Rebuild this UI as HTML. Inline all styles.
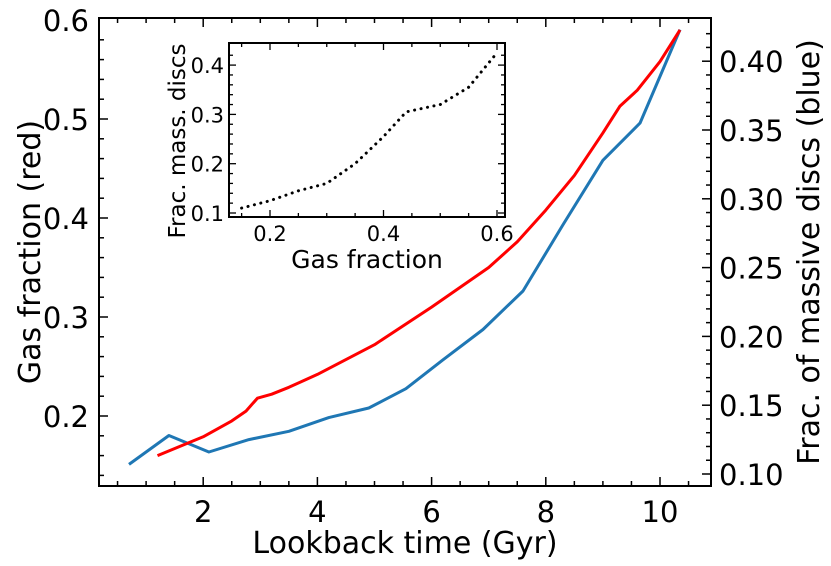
<!DOCTYPE html>
<html><head><meta charset="utf-8"><style>
html,body{margin:0;padding:0;background:#fff;}
svg{display:block;font-family:"DejaVu Sans","Liberation Sans",sans-serif;}
</style></head><body>
<svg id="chart" width="831" height="566" viewBox="0 0 831 566" xmlns="http://www.w3.org/2000/svg"></svg>
<script>
const lookbackRed = [1.2,2,2.5,2.75,2.95,3.2,3.5,4,5,6,7,7.5,8,8.5,9,9.3,9.6,10,10.35];
const gasFraction = [0.160,0.179,0.195,0.205,0.218,0.222,0.229,0.242,0.272,0.310,0.350,0.376,0.408,0.443,0.486,0.513,0.529,0.558,0.590];
const lookbackBlue = [0.7,1.4,2.1,2.8,3.5,4.2,4.9,5.55,6.2,6.9,7.6,8.3,9.0,9.65,10.35];
const fracMassive = [0.107,0.128,0.116,0.125,0.131,0.141,0.148,0.162,0.183,0.205,0.233,0.281,0.328,0.355,0.423];
const insetGas = [0.15,0.2,0.25,0.3,0.35,0.4,0.44,0.5,0.55,0.6];
const insetFrac = [0.11,0.125,0.145,0.16,0.2,0.255,0.305,0.32,0.355,0.425];
const xTicks = [2,4,6,8,10];
const yLeftTicks = [0.2,0.3,0.4,0.5,0.6];
const yRightTicks = [0.10,0.15,0.20,0.25,0.30,0.35,0.40];
const insetXTicks = [0.2,0.4,0.6];
const insetYTicks = [0.1,0.2,0.3,0.4];

const NS="http://www.w3.org/2000/svg";
const svg=document.getElementById('chart');
function mk(tag,attrs,parent){const e=document.createElementNS(NS,tag);for(const k in attrs)e.setAttribute(k,attrs[k]);(parent||svg).appendChild(e);return e;}

const L=99,R=711,T=18,B=486;
const X=v=>89+v*57.1;
const YL=v=>416-(v-0.2)*990;
const YR=v=>474-(v-0.1)*1376;

function line(xs,ys,fx,fy,color,name,dash,w){
  const p=mk('polyline',{points:xs.map((x,i)=>fx(x).toFixed(1)+','+fy(ys[i]).toFixed(1)).join(' '),fill:'none',stroke:color,'stroke-width':w||3,'stroke-linejoin':'round'});
  if(dash){p.setAttribute('stroke-dasharray',dash);p.setAttribute('stroke-linecap','round');}
  
  
}
line(lookbackBlue,fracMassive,X,YR,'#1f77b4','blue-series-massive-discs');
line(lookbackRed,gasFraction,X,YL,'#ff0000','red-series-gas-fraction');

const frame=mk('rect',{x:L,y:T,width:R-L,height:B-T,fill:'none',stroke:'#000','stroke-width':2});



const ticks=mk('g',{stroke:'#000','stroke-width':1.5});


for(let v=0.5;v<=10.8;v+=0.5){const x=X(v);const major=Math.abs(v/2-Math.round(v/2))<1e-6;const len=major?9:5;
  mk('line',{x1:x,y1:B,x2:x,y2:B-len},ticks);mk('line',{x1:x,y1:T,x2:x,y2:T+len},ticks);}
for(let v=0.14;v<=0.6;v+=0.02){const y=YL(v);const major=Math.abs(v*10-Math.round(v*10))<1e-6;mk('line',{x1:L,y1:y,x2:L+(major?9:5),y2:y},ticks);}
for(let v=0.10;v<=0.43;v+=0.01){const y=YR(v);const major=Math.abs(v*20-Math.round(v*20))<1e-6;mk('line',{x1:R,y1:y,x2:R-(major?9:5),y2:y},ticks);}

xTicks.forEach(v=>{const t=mk('text',{x:X(v),y:522,'font-size':29,'text-anchor':'middle'});t.textContent=v;
  });
yLeftTicks.forEach(v=>{const t=mk('text',{x:89,y:YL(v)+11,'font-size':29,'text-anchor':'end'});t.textContent=v.toFixed(1);
  });
yRightTicks.forEach(v=>{const t=mk('text',{x:719,y:YR(v)+11,'font-size':29,'text-anchor':'start'});t.textContent=v.toFixed(2);
  });

let t=mk('text',{x:405,y:553,'font-size':30,'text-anchor':'middle'});t.textContent='Lookback time (Gyr)';

t=mk('text',{x:0,y:0,'font-size':30,'text-anchor':'middle',transform:'translate(40,252) rotate(-90)'});t.textContent='Gas fraction (red)';

t=mk('text',{x:0,y:0,'font-size':30,'text-anchor':'middle',transform:'translate(819,252) rotate(-90)'});t.textContent='Frac. of massive discs (blue)';


// inset
const iL=229,iR=505,iT=43,iB=217;
const IX=v=>270+(v-0.2)*567.5;
const IY=v=>213-(v-0.1)*493;
const inset=mk('g',{});


mk('rect',{x:iL,y:iT,width:iR-iL,height:iB-iT,fill:'#fff',stroke:'none'},inset);
const ip=mk('polyline',{points:insetGas.map((x,i)=>IX(x).toFixed(1)+','+IY(insetFrac[i]).toFixed(1)).join(' '),fill:'none',stroke:'#000','stroke-width':3,'stroke-dasharray':'0.1 6.5','stroke-linecap':'round'},inset);


const ifr=mk('rect',{x:iL,y:iT,width:iR-iL,height:iB-iT,fill:'none',stroke:'#000','stroke-width':2},inset);


const it=mk('g',{stroke:'#000','stroke-width':1.3},inset);
for(let v=0.15;v<=0.61;v+=0.05){const x=IX(v);const major=Math.abs(v*5-Math.round(v*5))<1e-6;const len=major?7:4;
  mk('line',{x1:x,y1:iB,x2:x,y2:iB-len},it);mk('line',{x1:x,y1:iT,x2:x,y2:iT+len},it);}
for(let v=0.1;v<=0.44;v+=0.02){const y=IY(v);const major=Math.abs(v*10-Math.round(v*10))<1e-6;const len=major?7:4;
  mk('line',{x1:iL,y1:y,x2:iL+len,y2:y},it);mk('line',{x1:iR,y1:y,x2:iR-len,y2:y},it);}
insetXTicks.forEach(v=>{const e=mk('text',{x:IX(v),y:241,'font-size':21,'text-anchor':'middle'},inset);e.textContent=v.toFixed(1);
  });
insetYTicks.forEach(v=>{const e=mk('text',{x:224,y:IY(v)+8,'font-size':21,'text-anchor':'end'},inset);e.textContent=v.toFixed(1);
  });
t=mk('text',{x:367,y:268,'font-size':25,'text-anchor':'middle'},inset);t.textContent='Gas fraction';

t=mk('text',{x:0,y:0,'font-size':23,'text-anchor':'middle',transform:'translate(185,141) rotate(-90)'},inset);t.textContent='Frac. mass. discs';

</script>
</body></html>
